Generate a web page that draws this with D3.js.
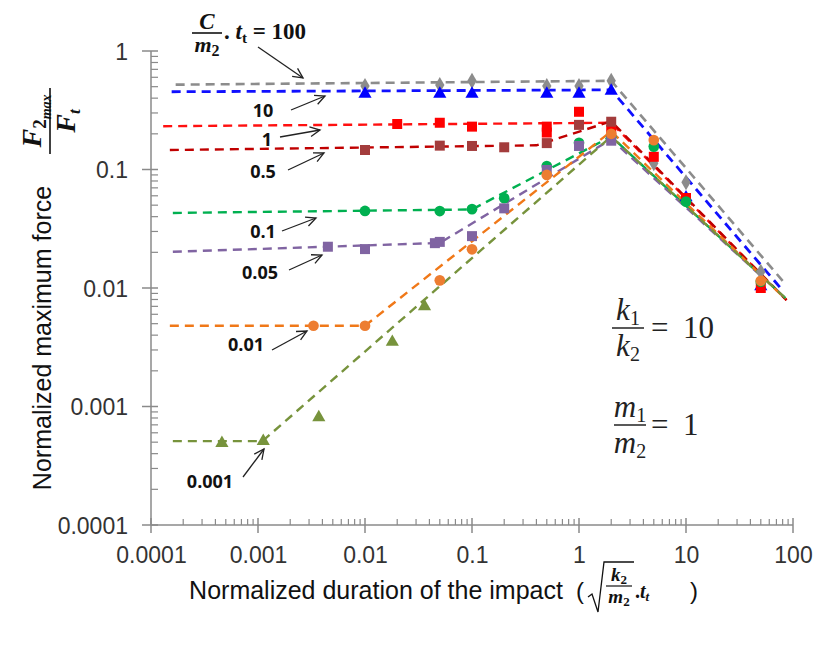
<!DOCTYPE html>
<html><head><meta charset="utf-8">
<script src="https://cdn.jsdelivr.net/npm/d3@7"></script>
<style>
html,body{margin:0;padding:0;background:#fff;}
svg{display:block;}
</style></head>
<body>
<svg id="chart" width="820" height="654"></svg>
<script>
// ---- data ----
const xTicks = [0.0001, 0.001, 0.01, 0.1, 1, 10, 100];
const xTickLabels = ["0.0001", "0.001", "0.01", "0.1", "1", "10", "100"];
const yTicks = [0.0001, 0.001, 0.01, 0.1, 1];
const yTickLabels = ["0.0001", "0.001", "0.01", "0.1", "1"];

const seriesLabels = ["100", "10", "1", "0.5", "0.1", "0.05", "0.01", "0.001"];

// fitted (dashed) curves: [x, y]
const fit100  = [[0.00017, 0.52], [2, 0.56], [82, 0.0112]];
const fit10   = [[0.000156, 0.453], [2, 0.47], [78, 0.0098]];
const fit1    = [[0.00013, 0.232], [2, 0.248], [87, 0.0079]];
const fit05   = [[0.00015, 0.146], [0.4, 0.16], [2, 0.255], [87, 0.0079]];
const fit01   = [[0.00016, 0.043], [0.1, 0.046], [2, 0.19], [85, 0.0082]];
const fit005  = [[0.00016, 0.0202], [0.05, 0.024], [2, 0.18], [85, 0.0082]];
const fit001  = [[0.00015, 0.0048], [0.01, 0.0048], [2, 0.21], [85, 0.0081]];
const fit0001 = [[0.00016, 0.00051], [0.0011, 0.00051], [2, 0.19], [85, 0.0082]];

// computed points: [x, y]
const pts100  = [[0.01, 0.507], [0.05, 0.516], [0.1, 0.56], [0.5, 0.507], [1, 0.507], [2, 0.56], [5, 0.113], [10, 0.078], [50, 0.0137]];
const pts10   = [[0.01, 0.435], [0.05, 0.435], [0.1, 0.435], [0.5, 0.435], [1, 0.435], [2, 0.46], [10, 0.058], [50, 0.0103]];
const pts1    = [[0.02, 0.242], [0.05, 0.248], [0.1, 0.23], [0.5, 0.23], [0.5, 0.205], [1, 0.307], [2, 0.215], [5, 0.128], [10, 0.0575], [50, 0.0100]];
const pts05   = [[0.01, 0.146], [0.05, 0.159], [0.1, 0.158], [0.2, 0.154], [0.5, 0.167], [1, 0.238], [2, 0.253]];
const pts01   = [[0.01, 0.0447], [0.05, 0.0446], [0.1, 0.0463], [0.2, 0.0573], [0.5, 0.107], [1, 0.168], [2, 0.187], [5, 0.156], [10, 0.0536], [50, 0.0113]];
const pts005  = [[0.0045, 0.0223], [0.01, 0.0213], [0.045, 0.0239], [0.05, 0.0245], [0.1, 0.0274], [0.2, 0.047], [0.5, 0.099], [1, 0.158], [2, 0.175]];
const pts001  = [[0.0033, 0.0048], [0.01, 0.0048], [0.05, 0.0116], [0.1, 0.0212], [0.5, 0.09], [2, 0.2], [5, 0.177], [50, 0.0115]];
const pts0001 = [[0.00046, 0.00049], [0.00112, 0.00051], [0.0037, 0.00081], [0.018, 0.0035], [0.036, 0.0070]];

// ---- styles ----
const series = [
  {fit: fit100,  pts: pts100,  line: "#8c8c8c", mark: "#8c8c8c", sym: "diamond",  w: 2.6},
  {fit: fit10,   pts: pts10,   line: "#1010ff", mark: "#0000ff", sym: "triangle", w: 2.8},
  {fit: fit1,    pts: pts1,    line: "#ff1010", mark: "#ff0000", sym: "square",   w: 2.4},
  {fit: fit05,   pts: pts05,   line: "#c00000", mark: "#a33c3c", sym: "square",   w: 2.4},
  {fit: fit01,   pts: pts01,   line: "#00b050", mark: "#00b050", sym: "circle",   w: 2.4},
  {fit: fit005,  pts: pts005,  line: "#8064a2", mark: "#8064a2", sym: "square",   w: 2.4},
  {fit: fit001,  pts: pts001,  line: "#f07818", mark: "#ed7d31", sym: "circle",   w: 2.4},
  {fit: fit0001, pts: pts0001, line: "#77933c", mark: "#77933c", sym: "triangle", w: 2.4}
];

const svg = d3.select("#chart");
const x = d3.scaleLog().domain([0.0001, 100]).range([151, 793]);
const y = d3.scaleLog().domain([0.0001, 1]).range([525, 51]);

const axisColor = "#8a8a8a";
const tickFont = "'Liberation Sans', Arial, sans-serif";

// axes lines
const axG = svg.append("g");
axG.append("line").attr("x1", x(0.0001)).attr("x2", x(100)).attr("y1", y(0.0001)).attr("y2", y(0.0001))
  .attr("stroke", axisColor).attr("stroke-width", 1.5);
axG.append("line").attr("x1", x(0.0001)).attr("x2", x(0.0001)).attr("y1", y(0.0001)).attr("y2", y(1))
  .attr("stroke", axisColor).attr("stroke-width", 1.5);

// minor ticks
const xMinor = x.ticks().filter(v => !xTicks.some(t => Math.abs(t - v) / t < 1e-6));
const yMinor = y.ticks().filter(v => !yTicks.some(t => Math.abs(t - v) / t < 1e-6));
axG.selectAll(".xm").data(xMinor).join("line")
  .attr("x1", d => x(d)).attr("x2", d => x(d)).attr("y1", y(0.0001)).attr("y2", y(0.0001) - 6)
  .attr("stroke", axisColor).attr("stroke-width", 1.2);
axG.selectAll(".ym").data(yMinor).join("line")
  .attr("y1", d => y(d)).attr("y2", d => y(d)).attr("x1", x(0.0001)).attr("x2", x(0.0001) + 7)
  .attr("stroke", axisColor).attr("stroke-width", 1.2);
// major ticks (crossing)
axG.selectAll(".xM").data(xTicks).join("line")
  .attr("x1", d => x(d)).attr("x2", d => x(d)).attr("y1", y(0.0001) - 7).attr("y2", y(0.0001) + 8)
  .attr("stroke", axisColor).attr("stroke-width", 1.5);
axG.selectAll(".yM").data(yTicks).join("line")
  .attr("y1", d => y(d)).attr("y2", d => y(d)).attr("x1", x(0.0001) - 9).attr("x2", x(0.0001) + 7)
  .attr("stroke", axisColor).attr("stroke-width", 1.5);

// tick labels via d3 axes
const xAxis = d3.axisBottom(x).tickValues(xTicks).tickFormat((d, i) => xTickLabels[i]).tickSize(0).tickPadding(0);
const gx = svg.append("g").attr("transform", `translate(0, 563)`).call(xAxis);
gx.select(".domain").remove();
gx.selectAll("text").attr("dy", 0).attr("font-family", tickFont).attr("font-size", 23).attr("fill", "#333");

const yAxis = d3.axisLeft(y).tickValues(yTicks).tickFormat((d, i) => yTickLabels[i]).tickSize(0).tickPadding(0);
const gy = svg.append("g").attr("transform", `translate(128, 0)`).call(yAxis);
gy.select(".domain").remove();
gy.selectAll("text").attr("dy", "0.35em").attr("font-family", tickFont).attr("font-size", 23).attr("fill", "#333");

// fitted lines
const lineGen = d3.line().x(d => x(d[0])).y(d => y(d[1]));
const lineG = svg.append("g");
series.forEach(s => {
  lineG.append("path").attr("d", lineGen(s.fit)).attr("fill", "none")
    .attr("stroke", s.line).attr("stroke-width", s.w).attr("stroke-dasharray", "9,6");
});

// markers
const symMap = {diamond: d3.symbolDiamond, triangle: d3.symbolTriangle, square: d3.symbolSquare, circle: d3.symbolCircle};
const sizeMap = {diamond: 75, triangle: 75, square: 100, circle: 90};
const markG = svg.append("g");
series.forEach(s => {
  markG.selectAll(null).data(s.pts).join("path")
    .attr("transform", d => `translate(${x(d[0])},${y(d[1])})`)
    .attr("d", d3.symbol().type(symMap[s.sym]).size(sizeMap[s.sym]))
    .attr("fill", s.mark);
});

// ---- annotations (layout in pixels) ----
const annot = [
  {label: "10",    lx: 263, ly: 111, tail: [291, 110], tip: [325, 96]},
  {label: "1",     lx: 267, ly: 140, tail: [280, 137], tip: [320, 130]},
  {label: "0.5",   lx: 263, ly: 172, tail: [288, 170], tip: [324, 153]},
  {label: "0.1",   lx: 263, ly: 232, tail: [282, 231], tip: [316, 218]},
  {label: "0.05",  lx: 260, ly: 273, tail: [289, 270], tip: [322, 255]},
  {label: "0.01",  lx: 246, ly: 345, tail: [272, 350], tip: [307, 331]},
  {label: "0.001", lx: 210, ly: 482, tail: [243, 477], tip: [264, 449]},
  {label: null,    lx: 0,   ly: 0,   tail: [258, 47],  tip: [303, 78]}
];
const aG = svg.append("g");
function arrow(t, p) {
  aG.append("line").attr("x1", t[0]).attr("y1", t[1]).attr("x2", p[0]).attr("y2", p[1])
    .attr("stroke", "#222").attr("stroke-width", 1.3);
  const ang = Math.atan2(p[1] - t[1], p[0] - t[0]);
  const L = 11, a = 0.45;
  const pts = [
    [p[0] - L * Math.cos(ang - a), p[1] - L * Math.sin(ang - a)],
    p,
    [p[0] - L * Math.cos(ang + a), p[1] - L * Math.sin(ang + a)]
  ];
  aG.append("path").attr("d", d3.line()(pts)).attr("fill", "none").attr("stroke", "#222").attr("stroke-width", 1.3);
}
annot.forEach(a => {
  arrow(a.tail, a.tip);
  if (a.label) {
    aG.append("text").attr("x", a.lx).attr("y", a.ly).attr("dy", "0.35em").attr("text-anchor", "middle")
      .attr("font-family", "'Open Sans', 'Liberation Sans', sans-serif").attr("font-weight", "bold")
      .attr("font-size", 18).attr("fill", "#111").text(a.label);
  }
});

// top label  C/m2 . t_t = 100
const serif = "'Liberation Serif', 'DejaVu Serif', serif";
const tG = svg.append("g").attr("font-family", serif).attr("font-weight", "bold").attr("fill", "#111");
tG.append("text").attr("x", 207).attr("y", 29).attr("text-anchor", "middle").attr("font-style", "italic").attr("font-size", 23).text("C");
tG.append("line").attr("x1", 192).attr("x2", 222).attr("y1", 33).attr("y2", 33).attr("stroke", "#111").attr("stroke-width", 1.6);
const m2t = tG.append("text").attr("x", 207).attr("y", 52).attr("text-anchor", "middle").attr("font-size", 22);
m2t.append("tspan").attr("font-style", "italic").text("m");
m2t.append("tspan").attr("font-size", 16).attr("dy", 4).text("2");
const tt = tG.append("text").attr("x", 224).attr("y", 39).attr("font-size", 23);
tt.append("tspan").text(". ");
tt.append("tspan").attr("font-style", "italic").text("t");
tt.append("tspan").attr("font-size", 15).attr("dy", 4).text("t");
tt.append("tspan").attr("dy", -4).text(" = 100");

// right annotations k1/k2 = 10 and m1/m2 = 1
const rG = svg.append("g").attr("font-family", serif).attr("fill", "#222");
function frac(cx, barY, top, topSub, bot, botSub, rhs) {
  const t1 = rG.append("text").attr("x", cx).attr("y", barY - 8).attr("text-anchor", "middle").attr("font-size", 31);
  t1.append("tspan").attr("font-style", "italic").text(top);
  t1.append("tspan").attr("font-size", 20).attr("dy", 5).text(topSub);
  rG.append("line").attr("x1", cx - 16).attr("x2", cx + 16).attr("y1", barY).attr("y2", barY).attr("stroke", "#222").attr("stroke-width", 1.5);
  const t2 = rG.append("text").attr("x", cx).attr("y", barY + 28).attr("text-anchor", "middle").attr("font-size", 31);
  t2.append("tspan").attr("font-style", "italic").text(bot);
  t2.append("tspan").attr("font-size", 20).attr("dy", 5).text(botSub);
  rG.append("text").attr("x", 651).attr("y", barY + 10).attr("font-size", 31).text("=");
  rG.append("text").attr("x", 683).attr("y", barY + 10).attr("font-size", 31).text(rhs);
}
frac(628, 328, "k", "1", "k", "2", "10");
frac(630, 425, "m", "1", "m", "2", "1");

// y axis title
svg.append("text").attr("transform", "translate(51,338) rotate(-90)").attr("text-anchor", "middle")
  .attr("font-family", tickFont).attr("font-size", 25).attr("fill", "#111").text("Normalized maximum force");
// fraction F2max / Ft
const fG = svg.append("g").attr("transform", "translate(50,121) rotate(-90)").attr("font-family", serif)
  .attr("font-weight", "bold").attr("font-style", "italic").attr("fill", "#111");
const fn = fG.append("text").attr("x", 0).attr("y", -9).attr("text-anchor", "middle").attr("font-size", 28);
fn.append("tspan").text("F");
fn.append("tspan").attr("font-size", 19).attr("font-style", "normal").attr("dy", 5).text("2");
fn.append("tspan").attr("font-size", 14).attr("dy", 5).text("max");
fG.append("line").attr("x1", -33).attr("x2", 33).attr("y1", 0).attr("y2", 0).attr("stroke", "#111").attr("stroke-width", 1.6);
const fd = fG.append("text").attr("x", 0).attr("y", 25).attr("text-anchor", "middle").attr("font-size", 28);
fd.append("tspan").text("F");
fd.append("tspan").attr("font-size", 17).attr("dy", 5).text("t");

// x axis title
const xt = svg.append("g");
xt.append("text").attr("x", 376).attr("y", 599).attr("text-anchor", "middle")
  .attr("font-family", tickFont).attr("font-size", 25).attr("fill", "#111").text("Normalized duration of the impact");
xt.append("text").attr("x", 576).attr("y", 599).attr("font-family", tickFont).attr("font-size", 24).attr("fill", "#111").text("(");
// radical
xt.append("path").attr("d", d3.line()([[588, 597], [592, 594], [598, 612], [604, 562], [634, 562]]))
  .attr("fill", "none").attr("stroke", "#111").attr("stroke-width", 1.3);
const kk = xt.append("text").attr("x", 619).attr("y", 581).attr("text-anchor", "middle").attr("font-family", serif)
  .attr("font-weight", "bold").attr("font-style", "italic").attr("font-size", 19).attr("fill", "#111");
kk.append("tspan").text("k");
kk.append("tspan").attr("font-size", 13).attr("font-style", "normal").attr("dy", 3).text("2");
xt.append("line").attr("x1", 606).attr("x2", 632).attr("y1", 586).attr("y2", 586).attr("stroke", "#111").attr("stroke-width", 1.2);
const mm = xt.append("text").attr("x", 619).attr("y", 603).attr("text-anchor", "middle").attr("font-family", serif)
  .attr("font-weight", "bold").attr("font-style", "italic").attr("font-size", 19).attr("fill", "#111");
mm.append("tspan").text("m");
mm.append("tspan").attr("font-size", 13).attr("font-style", "normal").attr("dy", 3).text("2");
const tt2 = xt.append("text").attr("x", 635).attr("y", 598).attr("font-family", serif)
  .attr("font-weight", "bold").attr("font-size", 20).attr("fill", "#111");
tt2.append("tspan").text(".");
tt2.append("tspan").attr("font-style", "italic").text("t");
tt2.append("tspan").attr("font-style", "italic").attr("font-size", 13).attr("dy", 3).text("t");
xt.append("text").attr("x", 690).attr("y", 599).attr("font-family", tickFont).attr("font-size", 24).attr("fill", "#111").text(")");
</script>
</body></html>
